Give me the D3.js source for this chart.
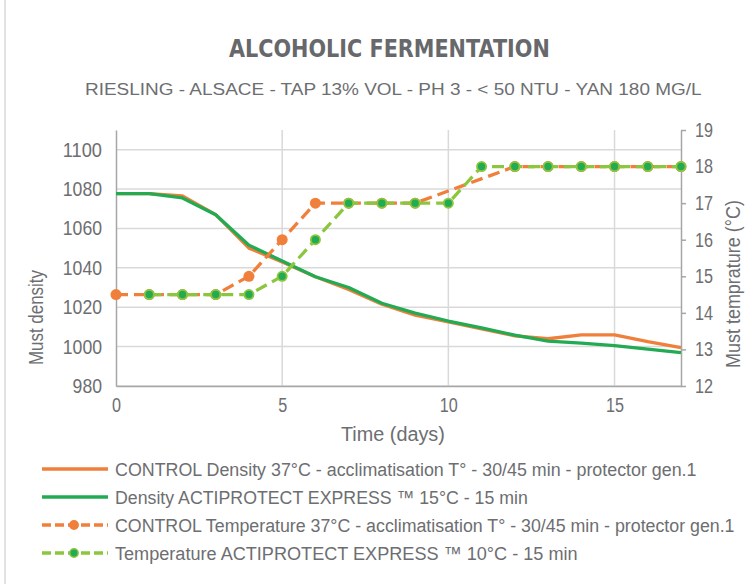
<!DOCTYPE html>
<html>
<head>
<meta charset="utf-8">
<script src="https://cdn.jsdelivr.net/npm/d3@7"></script>
<style>
  body { margin: 0; background: #fff; }
  text { fill: #6d6e71; font-family: "Liberation Sans", Arial, sans-serif; }
</style>
</head>
<body>
<svg id="chart" width="746" height="584"></svg>
<script>
const svg = d3.select("#chart");

const days = d3.range(0, 18);

const densityControl = [1077.7, 1077.7, 1076.5, 1067, 1050, 1043, 1035.5, 1029, 1021.5, 1016, 1012.5, 1009, 1005.5, 1004, 1006, 1006, 1002.5, 999.5];
const densityActi = [1077.7, 1077.7, 1075.5, 1067, 1051.5, 1043.5, 1035.5, 1030, 1022, 1017, 1013, 1009.5, 1005.8, 1002.8, 1001.8, 1000.5, 998.7, 997];
const tempControl = [14.5, 14.5, 14.5, 14.5, 15, 16, 17, 17, 17, 17, null, null, 18, 18, 18, 18, 18, 18];
const tempActi = [null, 14.5, 14.5, 14.5, 14.5, 15, 16, 17, 17, 17, 17, 18, 18, 18, 18, 18, 18, 18];

const xTicks = [0, 5, 10, 15];
const densityTicks = [980, 1000, 1020, 1040, 1060, 1080, 1100];
const tempTicks = [12, 13, 14, 15, 16, 17, 18, 19];

const legendLabels = [
  "CONTROL Density 37°C - acclimatisation T° - 30/45 min - protector gen.1",
  "Density ACTIPROTECT EXPRESS \u2122 15°C - 15 min",
  "CONTROL Temperature 37°C - acclimatisation T° - 30/45 min - protector gen.1",
  "Temperature ACTIPROTECT EXPRESS \u2122 10°C - 15 min"
];
// measured widths of the legend texts in the reference
const legendWidths = [582, 413, 620, 463];

const ORANGE = "#f07f3c";
const GREEN = "#22ab52";
const LIGHTGREEN = "#8cc63f";
const GRID = "#d9d9d9";
const AXIS = "#a6a6a6";

const plotLeft = 116, plotRight = 681, plotTop = 130, plotBottom = 386;

const x = d3.scaleLinear().domain([0, 17]).range([plotLeft, plotRight]);
const yL = d3.scaleLinear().domain([980, 1110]).range([plotBottom, plotTop]);
const yR = d3.scaleLinear().domain([12, 19]).range([plotBottom, plotTop]);

// no narrow font installed: draw text at full height, then squeeze it sideways
function narrowText(parent, str, tx, ty, w, size, rot, styleFn) {
  const t = parent.append("text")
      .style("font-size", size + "px")
      .text(str);
  if (styleFn) styleFn(t);
  const k = w / t.node().getComputedTextLength();
  t.attr("transform", `translate(${tx},${ty})${rot ? " rotate(" + rot + ")" : ""} scale(${k},1)`);
  return t;
}

// chart frame edge
svg.append("line")
    .attr("x1", 5).attr("x2", 5).attr("y1", 0).attr("y2", 584)
    .attr("stroke", GRID).attr("stroke-width", 1.5);

// titles
narrowText(svg, "ALCOHOLIC FERMENTATION", 229, 57, 321, 24, 0, t => t
    .style("font-family", "'DejaVu Sans'")
    .style("font-weight", "bold")
    .style("fill", "#67686b"));

narrowText(svg, "RIESLING - ALSACE - TAP 13% VOL - PH 3 - < 50 NTU - YAN 180 MG/L", 85, 95, 617, 17);

// gridlines
svg.append("g")
  .selectAll("line")
  .data(densityTicks)
  .join("line")
    .attr("x1", plotLeft).attr("x2", plotRight)
    .attr("y1", d => yL(d)).attr("y2", d => yL(d))
    .attr("stroke", GRID).attr("stroke-width", 1.5);

svg.append("g")
  .selectAll("line")
  .data(xTicks.filter(d => d > 0))
  .join("line")
    .attr("x1", d => x(d)).attr("x2", d => x(d))
    .attr("y1", plotTop).attr("y2", plotBottom)
    .attr("stroke", GRID).attr("stroke-width", 1.5);

// axes
const tickFont = (g, perChar) => g.selectAll("text")
    .style("font-family", "'Liberation Sans'")
    .style("font-size", "20px")
    .attr("fill", "#6d6e71")
    .each(function () {
      const t = d3.select(this);
      t.attr("textLength", t.text().length * perChar).attr("lengthAdjust", "spacingAndGlyphs");
    });

svg.append("g")
    .attr("transform", `translate(0,${plotBottom})`)
    .call(d3.axisBottom(x).tickValues(xTicks).tickFormat(d3.format("d")).tickSize(0).tickPadding(12))
    .call(g => g.select(".domain").attr("stroke", AXIS).attr("stroke-width", 1.5))
    .call(tickFont, 9);

svg.append("g")
    .attr("transform", `translate(${plotLeft},0)`)
    .call(d3.axisLeft(yL).tickValues(densityTicks).tickFormat(d3.format("d")).tickSize(0).tickPadding(14))
    .call(g => g.select(".domain").attr("stroke", AXIS).attr("stroke-width", 1.5))
    .call(tickFont, 9.8);

svg.append("g")
    .attr("transform", `translate(${plotRight},0)`)
    .call(d3.axisRight(yR).tickValues(tempTicks).tickFormat(d3.format("d")).tickSize(5).tickSizeOuter(0).tickPadding(9))
    .call(g => g.select(".domain").attr("stroke", AXIS).attr("stroke-width", 1.5))
    .call(g => g.selectAll(".tick line").attr("stroke", AXIS).attr("stroke-width", 1.5))
    .call(tickFont, 9);

// axis titles
narrowText(svg, "Time (days)", 341, 441, 104, 21);
narrowText(svg, "Must density", 43, 365, 95, 21, -90);
narrowText(svg, "Must temprature (°C)", 740, 368, 168, 21, -90);

// series
const lineL = d3.line().x(d => x(d.day)).y(d => yL(d.v));
const lineR = d3.line().x(d => x(d.day)).y(d => yR(d.v));
const pts = arr => arr.map((v, i) => ({ day: days[i], v })).filter(d => d.v !== null);

svg.append("path")
    .attr("d", lineL(pts(densityControl)))
    .attr("fill", "none").attr("stroke", ORANGE).attr("stroke-width", 3.3)
    .attr("stroke-linejoin", "round");

svg.append("path")
    .attr("d", lineL(pts(densityActi)))
    .attr("fill", "none").attr("stroke", GREEN).attr("stroke-width", 3.3)
    .attr("stroke-linejoin", "round");

svg.append("path")
    .attr("d", lineR(pts(tempControl)))
    .attr("fill", "none").attr("stroke", ORANGE).attr("stroke-width", 3.3)
    .attr("stroke-dasharray", "12,6");

svg.append("g")
  .selectAll("circle")
  .data(pts(tempControl))
  .join("circle")
    .attr("cx", d => x(d.day)).attr("cy", d => yR(d.v))
    .attr("r", 5.5)
    .attr("fill", ORANGE);

svg.append("path")
    .attr("d", lineR(pts(tempActi)))
    .attr("fill", "none").attr("stroke", LIGHTGREEN).attr("stroke-width", 3.3)
    .attr("stroke-dasharray", "12,6");

svg.append("g")
  .selectAll("circle")
  .data(pts(tempActi))
  .join("circle")
    .attr("cx", d => x(d.day)).attr("cy", d => yR(d.v))
    .attr("r", 4.6)
    .attr("fill", GREEN)
    .attr("stroke", LIGHTGREEN).attr("stroke-width", 1.8);

// legend
const legendStyles = [
  { color: ORANGE, dash: null, marker: null },
  { color: GREEN, dash: null, marker: null },
  { color: ORANGE, dash: "9,4", marker: ORANGE },
  { color: LIGHTGREEN, dash: "9,4", marker: GREEN }
];

const legend = svg.append("g");
legendLabels.forEach((label, i) => {
  const ly = 469 + i * 28;
  const s = legendStyles[i];
  legend.append("line")
      .attr("x1", 42).attr("x2", 108).attr("y1", ly).attr("y2", ly)
      .attr("stroke", s.color).attr("stroke-width", 3.3)
      .attr("stroke-dasharray", s.dash);
  if (s.marker) {
    legend.append("circle")
        .attr("cx", 74).attr("cy", ly).attr("r", 4.2)
        .attr("fill", s.marker)
        .attr("stroke", s.color).attr("stroke-width", 1.5);
  }
  narrowText(legend, label, 115, ly + 7, legendWidths[i], 19);
});
</script>
</body>
</html>
